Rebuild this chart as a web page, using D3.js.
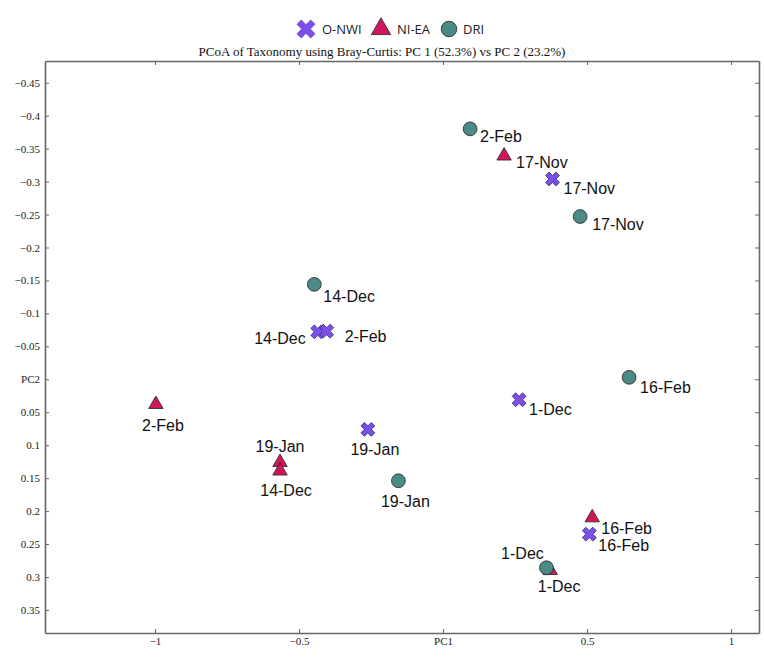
<!DOCTYPE html>
<html>
<head>
<meta charset="utf-8">
<script src="https://cdn.jsdelivr.net/npm/d3@7"></script>
<style>
  body { margin: 0; background: #fff; }
  .axis path, .axis line { stroke: #666; }
  .axis text { font-family: "Liberation Serif", serif; font-size: 11px; fill: #222; }
</style>
</head>
<body>
<svg width="764" height="657"></svg>
<script>
var seriesNames = ["O-NWI", "NI-EA", "DRI"];
var seriesColors = ["#7b50e6", "#d0175c", "#4b8a86"];

// PC1 / PC2 coordinates
var onwiLabels = ["17-Nov", "14-Dec", "2-Feb", "1-Dec", "19-Jan", "16-Feb"];
var onwiPC1 = [0.380, -0.435, -0.404, 0.264, -0.261, 0.508];
var onwiPC2 = [-0.304, -0.072, -0.073, 0.031, 0.076, 0.235];

var nieaLabels = ["17-Nov", "2-Feb", "19-Jan", "14-Dec", "16-Feb", "1-Dec"];
var nieaPC1 = [0.212, -0.997, -0.566, -0.566, 0.518, 0.372];
var nieaPC2 = [-0.339, 0.038, 0.126, 0.139, 0.210, 0.290];

var driLabels = ["2-Feb", "17-Nov", "14-Dec", "16-Feb", "19-Jan", "1-Dec"];
var driPC1 = [0.094, 0.476, -0.447, 0.646, -0.155, 0.359];
var driPC2 = [-0.380, -0.247, -0.144, -0.003, 0.154, 0.286];

var xTicks = [-1, -0.5, 0, 0.5, 1];
var yTicks = [-0.45, -0.4, -0.35, -0.3, -0.25, -0.2, -0.15, -0.1, -0.05, 0, 0.05, 0.1, 0.15, 0.2, 0.25, 0.3, 0.35];

var title = "PCoA of Taxonomy using Bray-Curtis: PC 1 (52.3%) vs PC 2 (23.2%)";

// where each point label sits relative to its marker: [dx, dy, anchor]
var labelPlace = {
  "O-NWI": [[11, 9, "start"], [-12, 7, "end"], [18, 5, "start"], [10, 10, "start"], [7, 20, "middle"], [9, 11, "start"]],
  "NI-EA": [[12, 7, "start"], [7, 21, "middle"], [0, -16, "middle"], [6, 20, "middle"], [9, 11, "start"], [9, 16, "middle"]],
  "DRI":   [[10, 8, "start"], [12, 8, "start"], [9, 12, "start"], [11, 10, "start"], [7, 21, "middle"], [-24, -14, "middle"]]
};

function rows(name, labels, xs, ys) {
  return labels.map(function(l, i) {
    return {series: name, label: l, pc1: xs[i], pc2: ys[i], place: labelPlace[name][i]};
  });
}
var data = [].concat(
  rows("NI-EA", nieaLabels, nieaPC1, nieaPC2),
  rows("DRI", driLabels, driPC1, driPC2),
  rows("O-NWI", onwiLabels, onwiPC1, onwiPC2)
);

var svg = d3.select("svg"),
    margin = {top: 61, right: 5, bottom: 24, left: 45},
    width = +svg.attr("width") - margin.left - margin.right,
    height = +svg.attr("height") - margin.top - margin.bottom;

var x = d3.scaleLinear().domain([-1.382, 1.097]).range([0, width]),
    y = d3.scaleLinear().domain([-0.483, 0.385]).range([0, height]);

var color = d3.scaleOrdinal().domain(seriesNames).range(seriesColors);

// marker shapes; the x is a cross turned 45 degrees
function markerPath(series, size) {
  if (series === "O-NWI") return d3.symbol().type(d3.symbolCross).size(size * 0.8)();
  if (series === "NI-EA") return d3.symbol().type(d3.symbolTriangle).size(size * 0.6)();
  return d3.symbol().type(d3.symbolCircle).size(size)();
}
function markerRotate(series) { return series === "O-NWI" ? " rotate(45)" : ""; }

var g = svg.append("g")
    .attr("transform", "translate(" + margin.left + "," + margin.top + ")");

var fmtX = function(d) { return d === 0 ? "PC1" : d3.format("")(d); };
var fmtY = function(d) { return d === 0 ? "PC2" : d3.format("")(+d.toFixed(2)); };

g.append("g")
    .attr("class", "axis")
    .attr("transform", "translate(0," + height + ")")
    .call(d3.axisBottom(x).tickValues(xTicks).tickFormat(fmtX).tickSizeInner(-4).tickSizeOuter(0).tickPadding(4));

g.append("g")
    .attr("class", "axis")
    .call(d3.axisTop(x).tickValues(xTicks).tickFormat("").tickSizeInner(-4).tickSizeOuter(0));

g.append("g")
    .attr("class", "axis")
    .call(d3.axisLeft(y).tickValues(yTicks).tickFormat(fmtY).tickSizeInner(-4).tickSizeOuter(0).tickPadding(5));

g.append("g")
    .attr("class", "axis")
    .attr("transform", "translate(" + width + ",0)")
    .call(d3.axisRight(y).tickValues(yTicks).tickFormat("").tickSizeInner(-4).tickSizeOuter(0));

g.selectAll(".axis path").attr("stroke-width", 1.6);

// points
var pts = g.selectAll(".pt")
  .data(data)
  .enter().append("g")
    .attr("class", "pt");

pts.append("path")
    .attr("transform", function(d) { return "translate(" + x(d.pc1) + "," + y(d.pc2) + ")" + markerRotate(d.series); })
    .attr("d", function(d) { return markerPath(d.series, 150); })
    .attr("fill", function(d) { return color(d.series); })
    .attr("stroke", function(d) { return d.series === "O-NWI" ? "#3b2a86" : "#222"; })
    .attr("stroke-width", 0.8);

pts.append("text")
    .attr("x", function(d) { return x(d.pc1) + d.place[0]; })
    .attr("y", function(d) { return y(d.pc2) + d.place[1]; })
    .attr("dy", "0.35em")
    .attr("text-anchor", function(d) { return d.place[2]; })
    .attr("font-family", "Liberation Sans, Arial, sans-serif")
    .attr("font-size", 16)
    .attr("fill", "#111")
    .text(function(d) { return d.label; });

// title
svg.append("text")
    .attr("x", margin.left + width / 2 - 20)
    .attr("y", 56)
    .attr("text-anchor", "middle")
    .attr("font-family", "Liberation Serif, serif")
    .attr("font-size", 13)
    .attr("fill", "#111")
    .text(title);

// legend
var legendX = [306, 381, 449];
var legend = svg.selectAll(".legend")
  .data(seriesNames)
  .enter().append("g")
    .attr("class", "legend")
    .attr("transform", function(d, i) { return "translate(" + legendX[i] + ",29)"; });

legend.append("path")
    .attr("transform", function(d) { return markerRotate(d); })
    .attr("d", function(d) { return markerPath(d, d === "O-NWI" ? 280 : (d === "NI-EA" ? 270 : 190)); })
    .attr("fill", function(d) { return color(d); })
    .attr("stroke", function(d) { return d === "O-NWI" ? "none" : "#222"; })
    .attr("stroke-width", 0.8)
    .attr("stroke-linejoin", "round");

legend.append("text")
    .attr("x", function(d) { return d === "DRI" ? 14 : 16; })
    .attr("dy", "0.35em")
    .attr("font-family", "Open Sans, sans-serif")
    .attr("font-size", 13)
    .attr("fill", "#222")
    .text(function(d) { return d; });
</script>
</body>
</html>
